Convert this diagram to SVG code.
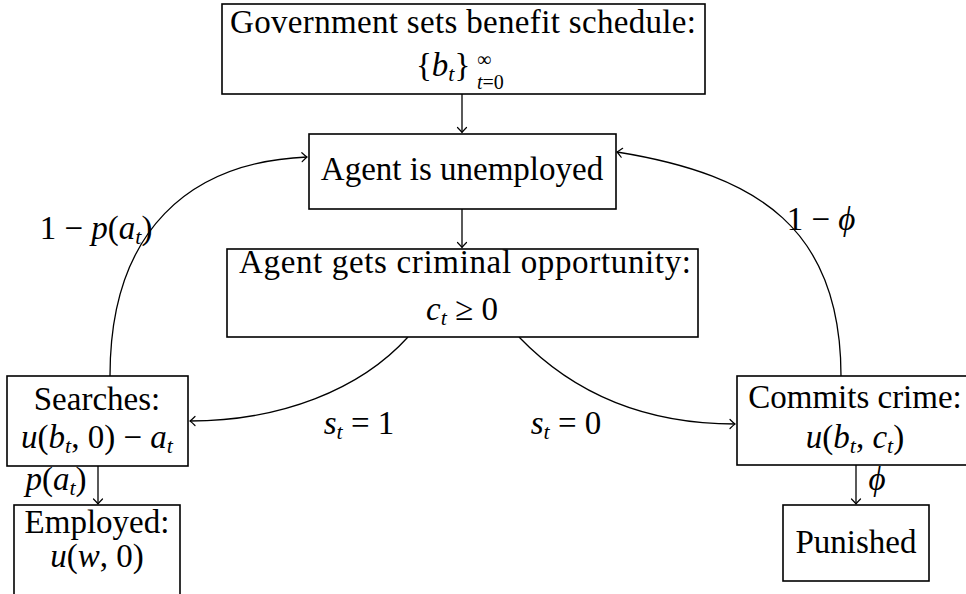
<svg xmlns="http://www.w3.org/2000/svg" width="966" height="594" viewBox="0 0 966 594">
<style>
.box{fill:#fff;stroke:#000;stroke-width:1.6}
.t{font-family:"Liberation Serif","Times New Roman",serif;font-size:33px;fill:#000}
.m{font-style:italic}
.c{text-anchor:middle}
.s{font-size:22px}
.ss{font-size:20px}
.edge{fill:none;stroke:#000;stroke-width:1.3;marker-end:url(#arr)}
</style>
<defs>
<marker id="arr" markerUnits="userSpaceOnUse" markerWidth="14" markerHeight="14" refX="0" refY="0" orient="auto" overflow="visible">
<path d="M-5,-4.5 Q-1.5,-1 0,0 Q-1.5,1 -5,4.5" fill="none" stroke="#000" stroke-width="1.2" stroke-linecap="round"/>
</marker>
</defs>
<rect width="966" height="594" fill="#fff"/>

<g id="edges">
<path class="edge" d="M462,94 L462,132.5"/>
<path class="edge" d="M462,209 L462,247.5"/>
<path class="edge" d="M110,376 C110,230 190,162 307,157"/>
<path class="edge" d="M841,376 C841,230 760,175 617,152"/>
<path class="edge" d="M408,337 C360,390 280,421 190,421"/>
<path class="edge" d="M519,337 C570,390 640,424 735,424"/>
<path class="edge" d="M98,466 L98,504"/>
<path class="edge" d="M856,465 L856,504"/>
<text class="t c" x="96" y="239">1 − <tspan class="m">p</tspan>(<tspan class="m">a</tspan><tspan class="s m" dy="5">t</tspan><tspan dy="-5">)</tspan></text>
<text class="t c" x="821" y="230">1 − <tspan class="m">ϕ</tspan></text>
<text class="t c" x="359" y="434"><tspan class="m">s</tspan><tspan class="s m" dy="5">t</tspan><tspan dy="-5"> = 1</tspan></text>
<text class="t c" x="566" y="434"><tspan class="m">s</tspan><tspan class="s m" dy="5">t</tspan><tspan dy="-5"> = 0</tspan></text>
<text class="t c" x="56" y="490"><tspan class="m">p</tspan>(<tspan class="m">a</tspan><tspan class="s m" dy="5">t</tspan><tspan dy="-5">)</tspan></text>
<text class="t c m" x="877" y="490">ϕ</text>
</g>

<g id="gov">
<rect class="box" x="222" y="4" width="483" height="90"/>
<text class="t c" x="463" y="33" textLength="466">Government sets benefit schedule:</text>
<text class="t" x="416" y="76">{<tspan class="m">b</tspan><tspan class="s m" dy="5">t</tspan><tspan dy="-5">}</tspan></text>
<text class="t ss" x="477" y="66">∞</text>
<text class="t ss" x="477" y="89"><tspan class="m">t</tspan>=0</text>
</g>

<g id="unemployed">
<rect class="box" x="309" y="134" width="307" height="75"/>
<text class="t c" x="462" y="180">Agent is unemployed</text>
</g>

<g id="opportunity">
<rect class="box" x="227" y="249" width="471" height="88"/>
<text class="t c" x="465" y="273" textLength="452">Agent gets criminal opportunity:</text>
<text class="t c" x="462" y="320"><tspan class="m">c</tspan><tspan class="s m" dy="5">t</tspan><tspan dy="-5"> ≥ 0</tspan></text>
</g>

<g id="searches">
<rect class="box" x="7" y="376" width="181" height="90"/>
<text class="t c" x="97" y="410">Searches:</text>
<text class="t c" x="97" y="448"><tspan class="m">u</tspan>(<tspan class="m">b</tspan><tspan class="s m" dy="5">t</tspan><tspan dy="-5">, 0) − </tspan><tspan class="m">a</tspan><tspan class="s m" dy="5">t</tspan></text>
</g>

<g id="employed">
<rect class="box" x="14" y="505" width="166" height="100"/>
<text class="t c" x="97" y="533">Employed:</text>
<text class="t c" x="97" y="567"><tspan class="m">u</tspan>(<tspan class="m">w</tspan>, 0)</text>
</g>

<g id="crime">
<rect class="box" x="737" y="376" width="240" height="89"/>
<text class="t c" x="855" y="408">Commits crime:</text>
<text class="t c" x="855" y="448"><tspan class="m">u</tspan>(<tspan class="m">b</tspan><tspan class="s m" dy="5">t</tspan><tspan dy="-5">, </tspan><tspan class="m">c</tspan><tspan class="s m" dy="5">t</tspan><tspan dy="-5">)</tspan></text>
</g>

<g id="punished">
<rect class="box" x="783" y="505" width="146" height="76"/>
<text class="t c" x="856" y="553">Punished</text>
</g>
</svg>
